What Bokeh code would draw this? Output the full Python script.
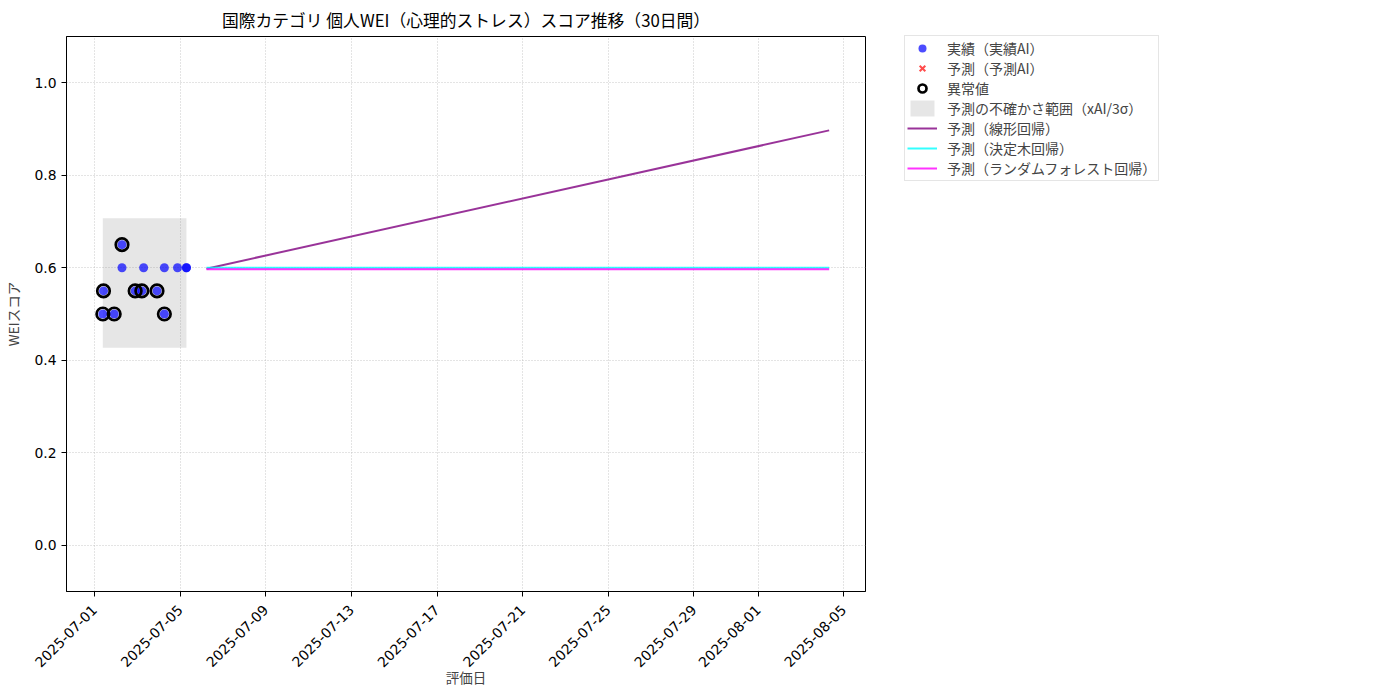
import math
import pandas as pd
from bokeh.plotting import figure
from bokeh.models import (ColumnDataSource, Range1d, DaysTicker, DatetimeTickFormatter,
                          Legend, LegendItem, FixedTicker, PrintfTickFormatter)
from bokeh.embed import file_html
from bokeh.resources import INLINE

FONT = "Noto Sans CJK JP"
TICK_FONT = "DejaVu Sans"

# ---- data ----
actual_dates = [
    "2025-07-01 09:15", "2025-07-01 10:00", "2025-07-01 22:00",
    "2025-07-02 06:45", "2025-07-02 06:45", "2025-07-02 21:30",
    "2025-07-03 05:00", "2025-07-03 07:00", "2025-07-03 22:00",
    "2025-07-04 06:15", "2025-07-04 06:15", "2025-07-04 21:00",
    "2025-07-05 07:00", "2025-07-05 07:00",
]
actual_values = [0.50, 0.55, 0.50, 0.65, 0.60, 0.55, 0.55, 0.60, 0.55,
                 0.50, 0.60, 0.60, 0.60, 0.60]
is_outlier = [1, 1, 1, 1, 0, 1, 1, 0, 1, 1, 0, 0, 0, 0]

forecast_dates = ["2025-07-06 05:30", "2025-08-04 07:40"]
forecast_linear = [0.598, 0.897]
forecast_tree = [0.600, 0.600]
forecast_rf = [0.5965, 0.5965]

band_lower = 0.427
band_upper = 0.707

y_ticks = [0.0, 0.2, 0.4, 0.6, 0.8, 1.0]
x_tick_days = [1, 5, 9, 13, 17, 21, 25, 29]

# ---- sources ----
a_dt = pd.to_datetime(actual_dates)
f_dt = pd.to_datetime(forecast_dates)
src_actual = ColumnDataSource(dict(x=a_dt, y=actual_values))
out_x = [d for d, o in zip(a_dt, is_outlier) if o]
out_y = [v for v, o in zip(actual_values, is_outlier) if o]
src_out = ColumnDataSource(dict(x=out_x, y=out_y))
# the "予測AI" series has no points in the chart; a single NaN keeps its legend glyph
src_pred_ai = ColumnDataSource(dict(x=[float("nan")], y=[float("nan")]))
src_band = ColumnDataSource(dict(left=[a_dt.min()], right=[a_dt.max()],
                                 bottom=[band_lower], top=[band_upper]))
src_f = ColumnDataSource(dict(x=f_dt, lin=forecast_linear, tree=forecast_tree, rf=forecast_rf))

xmin = a_dt.min()
xmax = f_dt.max()
pad = (xmax - xmin) * 0.05

p = figure(frame_width=799, frame_height=555, x_axis_type="datetime",
           x_range=Range1d(xmin - pad, xmax + pad), y_range=Range1d(-0.1, 1.1),
           output_backend="svg", toolbar_location=None,
           min_border_left=58, min_border_top=28, min_border_bottom=90,
           min_border_right=330, background_fill_color="white",
           border_fill_color="white")

p.title.text = "国際カテゴリ 個人WEI（心理的ストレス）スコア推移（30日間）"
p.title.align = "center"
p.title.text_font = FONT
p.title.text_font_size = "16.8px"
p.title.text_font_style = "normal"
p.title.text_color = "black"

# band
r_band = p.quad(left="left", right="right", bottom="bottom", top="top", source=src_band,
                fill_color="gray", fill_alpha=0.2, line_color=None)
# actual
r_act = p.scatter("x", "y", source=src_actual, size=9, fill_color="blue", fill_alpha=0.7,
                  line_color=None)
r_pred = p.scatter("x", "y", source=src_pred_ai, marker="x", size=13, line_color="red",
                   line_alpha=0.7, line_width=2)
r_out = p.scatter("x", "y", source=src_out, size=12.5, fill_color=None,
                  line_color="black", line_width=2.7)
r_lin = p.line("x", "lin", source=src_f, line_color="purple", line_alpha=0.8, line_width=2)
r_tree = p.line("x", "tree", source=src_f, line_color="cyan", line_alpha=0.8, line_width=2)
r_rf = p.line("x", "rf", source=src_f, line_color="magenta", line_alpha=0.8, line_width=2)

# axes
p.xaxis.ticker = DaysTicker(days=x_tick_days)
p.xaxis.formatter = DatetimeTickFormatter(days="%Y-%m-%d", months="%Y-%m-%d",
                                          years="%Y-%m-%d", hours="%Y-%m-%d")
p.xaxis.major_label_orientation = math.pi / 4
p.yaxis.ticker = FixedTicker(ticks=y_ticks)
p.yaxis.formatter = PrintfTickFormatter(format="%.1f")
p.xaxis.axis_label = "評価日"
p.yaxis.axis_label = "WEIスコア"
for ax in (p.xaxis, p.yaxis):
    ax.axis_label_text_font = FONT
    ax.axis_label_text_font_style = "normal"
    ax.axis_label_text_font_size = "13.5px"
    ax.major_label_text_font = TICK_FONT
    ax.major_label_text_font_size = "13.9px"
    ax.major_label_text_color = "black"
    ax.axis_line_color = "black"
    ax.major_tick_line_color = "black"
    ax.major_tick_in = 0
    ax.major_tick_out = 5
    ax.minor_tick_line_color = None
p.xaxis.major_label_standoff = 11
p.xaxis.axis_label_standoff = -8
p.yaxis.major_label_standoff = 5
p.yaxis.axis_label_standoff = 8

p.xgrid.ticker = DaysTicker(days=x_tick_days)
p.ygrid.ticker = FixedTicker(ticks=y_ticks)
for g in (p.xgrid, p.ygrid):
    g.grid_line_color = "#b0b0b0"
    g.grid_line_alpha = 0.7
    g.grid_line_dash = "1 2"
    g.grid_line_width = 1

p.outline_line_color = "black"
p.outline_line_alpha = 1
p.outline_line_width = 1

legend = Legend(items=[
    LegendItem(label="実績（実績AI）", renderers=[r_act]),
    LegendItem(label="予測（予測AI）", renderers=[r_pred]),
    LegendItem(label="異常値", renderers=[r_out]),
    LegendItem(label="予測の不確かさ範囲（xAI/3σ）", renderers=[r_band]),
    LegendItem(label="予測（線形回帰）", renderers=[r_lin]),
    LegendItem(label="予測（決定木回帰）", renderers=[r_tree]),
    LegendItem(label="予測（ランダムフォレスト回帰）", renderers=[r_rf]),
], location=(39, 410), margin=0, padding=2, spacing=0,
    glyph_height=20, glyph_width=30, label_height=20, label_standoff=10,
    label_text_font=FONT, label_text_font_size="14px",
    border_line_color="#cccccc", border_line_width=1, background_fill_alpha=1)
p.add_layout(legend, "right")

open("out.html", "w").write(file_html(p, INLINE))
